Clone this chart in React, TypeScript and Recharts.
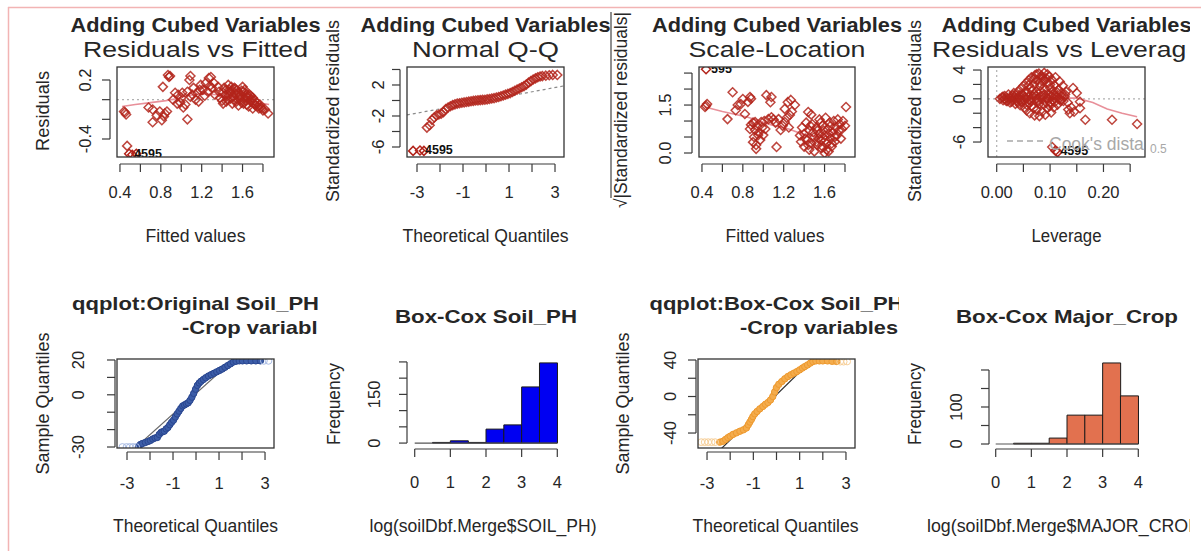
import React from "react";
import { ComposedChart, Scatter, Line, Bar, XAxis, YAxis, ReferenceLine } from "recharts";

const W = 1201;
const H = 551;
const AXIS_SPACE = 60;
const FONT = "'Liberation Sans', Arial, Helvetica, sans-serif";
const RED = "#B3241B";
const LOESS = "#E8909A";
const INK = "#262626";
const AX = "#3a3a3a";
const TICK_LEN = 8;
const MARK_R = 4.5;

// ---------- Residuals vs Fitted ----------
const rvfPoints: [number, number][] = [
  [0.44, -0.12], [0.46, -0.15], [0.45, -0.13], [0.47, -0.47],
  [0.82, 0.13], [0.87, 0.25], [0.88, 0.23], [0.89, 0.24],
  [0.68, -0.08], [0.72, -0.1], [0.76, -0.16], [0.72, -0.23], [0.81, -0.21], [0.84, -0.14], [0.79, -0.12], [0.83, -0.17], [0.86, -0.12],
  [1.06, -0.2],
  [0.92, 0.0], [0.94, 0.07], [0.96, -0.04], [0.99, -0.03], [1.01, 0.07], [1.02, -0.08], [1.04, -0.05], [1.06, 0.08], [1.09, 0.03],
  [1.09, 0.24], [1.08, 0.2], [1.12, 0.12], [1.14, 0.0], [1.16, 0.07], [1.17, -0.02], [1.19, 0.15], [1.21, 0.1], [1.24, 0.17],
  [1.26, 0.08], [1.27, 0.22], [1.29, 0.23], [1.3, 0.12], [1.32, 0.17], [1.33, 0.05], [1.36, 0.13], [1.37, 0.08], [1.0, 0.02],
  [0.97, 0.05], [1.11, 0.05], [1.23, 0.04], [1.28, 0.14], [1.18, 0.1],
  [1.38, 0.02], [1.4, -0.01], [1.41, 0.07], [1.41, -0.04], [1.43, 0.04], [1.45, 0.0], [1.46, 0.15], [1.47, 0.1], [1.48, 0.08],
  [1.48, 0.01], [1.5, -0.04], [1.51, 0.03], [1.52, 0.12], [1.53, 0.11], [1.54, -0.02], [1.55, 0.07], [1.56, -0.06], [1.57, 0.04],
  [1.58, 0.0], [1.59, 0.09], [1.6, 0.13], [1.61, 0.08], [1.61, -0.04], [1.62, 0.02], [1.63, 0.04], [1.64, -0.05], [1.65, 0.02],
  [1.66, -0.07], [1.67, 0.05], [1.68, -0.02], [1.69, 0.0], [1.7, -0.09], [1.71, -0.04], [1.72, -0.01], [1.73, -0.06], [1.75, -0.07],
  [1.76, -0.09], [1.78, -0.08], [1.8, -0.11], [1.85, -0.14], [1.44, 0.1], [1.53, 0.06], [1.58, 0.05], [1.63, -0.01], [1.5, 0.09],
  [1.42, 0.12], [1.44, -0.02], [1.46, 0.05], [1.49, 0.13], [1.51, 0.0], [1.54, 0.09], [1.56, 0.02], [1.59, -0.03], [1.62, 0.1],
  [1.64, 0.06], [1.66, 0.03], [1.68, 0.04], [1.7, 0.02], [1.72, -0.05], [1.74, -0.03], [1.77, -0.05], [1.79, -0.09], [1.82, -0.1],
];
const rvfOutliers: [number, number, string][] = [[0.52, -0.56, ""], [0.56, -0.55, ""], [0.49, -0.55, "4595"]];
const rvfSmooth: [number, number][] = [
  [0.42, -0.07], [0.55, -0.05], [0.7, -0.03], [0.85, -0.01], [0.95, 0.01], [1.05, 0.04], [1.2, 0.06], [1.35, 0.05],
  [1.5, 0.02], [1.65, -0.01], [1.8, -0.04], [1.86, -0.05],
];

// ---------- Normal Q-Q ----------
const nqqPoints: [number, number][] = [
  [-2.57, -3.5], [-2.45, -3.2], [-2.35, -2.5], [-2.25, -2.2], [-2.15, -1.9], [-2.05, -1.8], [-1.95, -1.7], [-1.85, -1.5],
  [-1.75, -1.1], [-1.65, -0.9], [-1.55, -0.75], [-1.45, -0.6], [-1.35, -0.5], [-1.25, -0.4], [-1.15, -0.35], [-1.05, -0.3],
  [-0.95, -0.25], [-0.85, -0.2], [-0.75, -0.15], [-0.65, -0.1], [-0.55, -0.05], [-0.45, 0.0], [-0.35, 0.02], [-0.25, 0.05],
  [-0.15, 0.08], [-0.05, 0.1], [0.05, 0.15], [0.15, 0.2], [0.25, 0.25], [0.35, 0.3], [0.45, 0.38], [0.55, 0.45], [0.65, 0.55],
  [0.75, 0.65], [0.85, 0.75], [0.95, 0.85], [1.05, 0.95], [1.15, 1.1], [1.25, 1.25], [1.35, 1.4], [1.45, 1.55], [1.55, 1.7],
  [1.65, 1.85], [1.75, 2.05], [1.85, 2.3], [1.95, 2.5], [2.05, 2.7], [2.15, 2.85], [2.25, 3.0], [2.35, 3.1], [2.45, 3.15],
  [2.6, 3.2], [2.75, 3.25], [2.9, 3.3], [3.1, 3.3],
];
const nqqOutliers: [number, number, string][] = [[-3.17, -6.5, ""], [-2.7, -6.5, ""], [-2.87, -6.45, "4595"]];
const nqqLine: [number, number][] = [[-3.44, -1.87], [3.4, 1.89]];

// ---------- Scale-Location ----------
const slPoints: [number, number][] = [
  [0.43, 1.44], [0.45, 1.53], [0.44, 1.48],
  [0.65, 1.06], [0.7, 1.9], [0.73, 1.34], [0.75, 1.5], [0.78, 1.53], [0.8, 1.69], [0.82, 1.22], [0.85, 1.6], [0.87, 1.75], [0.88, 1.7],
  [0.87, 0.75], [0.88, 0.88], [0.9, 0.34], [0.92, 0.72], [0.92, 0.97], [0.93, 0.13], [0.95, 0.56], [0.97, 0.41], [0.98, 0.97],
  [1.0, 0.56], [1.02, 0.75], [1.05, 1.06], [1.08, 1.12], [0.9, 0.95], [0.94, 0.85], [0.96, 0.65], [0.99, 0.8], [1.01, 1.0],
  [0.91, 0.5], [0.93, 0.25], [1.03, 1.81], [1.07, 1.59], [1.08, 1.75], [1.13, 0.19],
  [1.15, 1.06], [1.17, 0.72], [1.21, 0.97], [1.21, 1.38], [1.24, 1.59], [1.26, 1.19], [1.27, 1.66], [1.31, 1.5], [1.19, 0.85],
  [1.23, 1.1], [1.28, 1.3], [1.12, 0.95], [1.1, 1.05], [1.25, 0.8], [1.44, 1.28], [1.47, 1.2],
  [1.36, 0.55], [1.37, 0.35], [1.38, 0.8], [1.4, 0.2], [1.4, 0.6], [1.42, 0.95], [1.43, 0.4], [1.45, 0.1], [1.45, 0.7], [1.47, 0.3],
  [1.48, 0.9], [1.5, 0.5], [1.5, 0.05], [1.52, 0.8], [1.53, 0.25], [1.55, 0.6], [1.55, 1.05], [1.57, 0.15], [1.57, 0.4], [1.58, 0.85],
  [1.6, 0.0], [1.6, 0.55], [1.61, 1.1], [1.62, 0.3], [1.63, 0.75], [1.64, 0.05], [1.65, 0.95], [1.66, 0.45], [1.67, 0.2], [1.68, 0.65],
  [1.69, 1.0], [1.7, 0.35], [1.71, 0.8], [1.72, 0.55], [1.73, 1.05], [1.74, 0.7], [1.75, 0.9], [1.76, 0.45], [1.77, 0.75], [1.78, 1.0],
  [1.8, 0.85], [1.81, 1.44], [1.58, 0.2], [1.62, 0.1], [1.54, 0.45], [1.46, 0.85], [1.49, 0.65], [1.59, 0.7], [1.66, 0.85],
  [1.52, 0.35], [1.41, 0.45], [1.44, 0.25], [1.56, 0.95], [1.64, 0.6], [1.7, 0.5], [1.61, 0.4], [1.53, 0.7], [1.67, 0.3],
];
const slOutliers: [number, number, string][] = [[0.44, 2.62, "595"]];
const slSmooth: [number, number][] = [
  [0.43, 1.44], [0.6, 1.3], [0.85, 1.12], [1.08, 0.88], [1.25, 0.75], [1.41, 0.56], [1.57, 0.5], [1.7, 0.68], [1.81, 0.97],
];

// ---------- Residuals vs Leverage ----------
const rvlPoints: [number, number][] = [
  [0.006, 0.0], [0.01, 0.2], [0.012, -0.2], [0.015, 0.4], [0.018, -0.3], [0.02, 0.1], [0.022, 0.6], [0.025, -0.5], [0.028, 0.3],
  [0.03, -0.1], [0.032, 0.8], [0.035, -0.7], [0.036, 0.5], [0.038, -0.3], [0.04, 1.0], [0.042, 0.1], [0.044, -0.9], [0.045, 1.4],
  [0.047, -0.5], [0.048, 0.6], [0.05, 1.8], [0.052, -1.2], [0.053, 0.2], [0.055, 2.2], [0.056, -1.6], [0.058, 0.9], [0.06, 2.6],
  [0.061, -0.2], [0.062, -2.0], [0.064, 1.5], [0.065, 3.0], [0.066, -1.0], [0.068, 0.4], [0.07, 2.0], [0.071, -2.3], [0.072, 3.3],
  [0.074, 1.0], [0.075, -1.5], [0.076, 2.6], [0.078, -0.4], [0.079, 3.5], [0.08, -2.4], [0.081, 1.8], [0.082, 0.3], [0.084, 3.2],
  [0.085, -1.8], [0.086, 2.4], [0.088, -0.8], [0.089, 3.6], [0.09, 1.2], [0.091, -2.2], [0.092, 2.9], [0.094, 0.0], [0.095, -1.3],
  [0.096, 2.2], [0.098, 3.1], [0.1, 1.5], [0.101, -0.6], [0.102, -1.9], [0.104, 2.6], [0.105, 0.6], [0.107, -1.2], [0.108, 1.9],
  [0.11, 3.0], [0.112, 0.2], [0.114, -0.8], [0.116, 1.3], [0.118, 2.4], [0.12, -0.3], [0.122, 0.8], [0.124, 1.8], [0.127, 0.3],
  [0.13, 1.0], [0.133, -0.5], [0.015, 0.0], [0.025, 0.1], [0.035, 0.0], [0.045, -0.1], [0.055, 0.0], [0.065, 0.1], [0.075, 0.0],
  [0.085, -0.1], [0.095, 0.1], [0.105, -0.2], [0.03, 0.5], [0.04, -0.5], [0.05, 0.5], [0.06, -0.6], [0.07, 0.7], [0.08, -0.7],
  [0.09, 0.6], [0.1, -0.5], [0.11, 0.5], [0.12, -0.1],
  [0.012, 0.3], [0.02, -0.3], [0.028, -0.4], [0.033, 0.3], [0.043, 0.5], [0.046, -0.3], [0.052, 0.9], [0.057, -0.9], [0.059, 0.3],
  [0.063, -0.3], [0.067, 1.2], [0.069, -1.3], [0.073, 0.4], [0.077, -0.2], [0.083, 1.0], [0.087, 0.5], [0.093, -0.5], [0.097, 0.7],
  [0.099, -1.0], [0.103, 0.3], [0.106, 1.1], [0.109, -0.4], [0.113, 0.9], [0.117, 0.0], [0.121, 0.4], [0.125, -0.3], [0.128, 0.6],
  [0.06, 1.9], [0.07, 2.8], [0.08, 2.2], [0.09, 2.6], [0.1, 2.0], [0.085, 3.0], [0.075, 3.4], [0.095, 3.4],
  [0.143, 1.5], [0.15, 0.8], [0.156, -0.4], [0.134, -1.5], [0.137, -2.0], [0.156, -1.3], [0.166, -2.9], [0.216, -2.9],
  [0.263, -3.5], [0.145, -1.8], [0.14, -1.2], [0.104, -6.7],
];
const rvlOutliers: [number, number, string][] = [[0.114, -7.4, ""], [0.11, -7.2, "4595"]];
const rvlSmooth: [number, number][] = [
  [0.006, 0.05], [0.08, 0.1], [0.15, 0.1], [0.18, -0.5], [0.207, -1.4], [0.235, -2.0], [0.263, -2.5],
];

// ---------- qqplot: Original Soil_PH ----------
const origBand: [number, number][] = [
  [-2.5, -29.6], [-2.42, -28.6], [-2.33, -28.0], [-2.2, -27.4], [-2.08, -26.8], [-1.98, -26.2], [-1.88, -25.4], [-1.78, -24.8],
  [-1.68, -24.5], [-1.6, -22.8], [-1.52, -21.6], [-1.45, -21.2], [-1.38, -20.9], [-1.3, -19.6], [-1.22, -18.8], [-1.14, -17.2],
  [-1.06, -15.8], [-0.98, -14.6], [-0.9, -12.8], [-0.82, -11.0], [-0.74, -9.4], [-0.66, -7.8], [-0.58, -6.4], [-0.5, -5.8],
  [-0.42, -5.2], [-0.34, -4.6], [-0.26, -3.2], [-0.18, -1.4], [-0.1, 0.8], [-0.02, 3.2], [0.06, 5.4], [0.14, 6.8], [0.22, 7.8],
  [0.32, 8.8], [0.42, 9.8], [0.54, 10.8], [0.66, 11.6], [0.78, 12.4], [0.9, 13.2], [1.02, 14.0], [1.14, 14.8], [1.26, 15.8],
  [1.38, 16.8], [1.5, 17.8], [1.62, 18.8], [1.74, 19.3], [1.88, 19.5], [2.02, 19.5], [2.2, 19.5], [2.4, 19.5], [2.6, 19.5], [2.8, 19.5],
];
const origTails: [number, number][] = [[-3.2, -30], [-3.02, -30], [-2.88, -30], [-2.74, -30], [-2.6, -30], [2.95, 19.5], [3.15, 19.5]];
const origLine: [number, number][] = [[-3.44, -39.96], [3.4, 41.1]];

// ---------- qqplot: Box-Cox Soil_PH ----------
const bcBand: [number, number][] = [
  [-2.45, -50], [-2.31, -49], [-2.2, -47], [-2.1, -45], [-2.0, -43.5], [-1.88, -41.5], [-1.73, -39.8], [-1.58, -38], [-1.43, -36.5],
  [-1.3, -34.5], [-1.22, -31], [-1.15, -28], [-1.08, -25], [-1.02, -22], [-0.94, -19], [-0.84, -16.4], [-0.72, -13.5], [-0.59, -10.9],
  [-0.48, -8.5], [-0.37, -6.6], [-0.26, -3.8], [-0.16, 0], [-0.08, 5], [0.0, 9.8], [0.1, 13.4], [0.23, 16.4], [0.36, 19.4],
  [0.49, 21.9], [0.62, 23.8], [0.75, 25.6], [0.88, 27.3], [1.0, 29.2], [1.12, 31.2], [1.22, 32.8], [1.34, 34.6], [1.46, 36.6],
  [1.57, 38.3], [1.7, 39], [1.85, 39], [2.0, 39], [2.2, 39], [2.4, 38.6], [2.6, 38.4],
];
const bcTails: [number, number][] = [[-3.25, -50], [-3.1, -50], [-2.95, -50], [-2.8, -50], [-2.65, -50], [2.75, 38.2], [2.9, 38.2], [3.05, 38.4]];
const bcLine: [number, number][] = [[-3.39, -82.1], [3.39, 86.1]];

// ---------- Histograms ----------
const binCenters = [0.25, 0.75, 1.25, 1.75, 2.25, 2.75, 3.25, 3.75];
const soilPhCounts = [0, 2, 7, 2, 43, 56, 173, 247];
const cropCounts = [0, 2, 2, 16, 78, 78, 219, 130];

// ---------- Ticks ----------
const fittedTicks = [0.4, 0.6, 0.8, 1.0, 1.2, 1.4, 1.6, 1.8];
const fittedLabels = ["0.4", "", "0.8", "", "1.2", "", "1.6", ""];
const quantTicks = [-3, -2, -1, 0, 1, 2, 3];
const quantLabels = ["-3", "", "-1", "", "1", "", "3"];
const residTicks = [-0.4, -0.2, 0, 0.2];
const residLabels = ["-0.4", "", "", "0.2"];
const stdTicks = [-6, -4, -2, 0, 2, 4];
const stdLabels = ["-6", "", "-2", "", "2", ""];
const sqrtTicks = [0, 0.5, 1, 1.5, 2, 2.5];
const sqrtLabels = ["0.0", "", "", "1.5", "", ""];
const levTicks = [0, 0.05, 0.1, 0.15, 0.2, 0.25];
const levLabels = ["0.00", "", "0.10", "", "0.20", ""];
const levStdLabels = ["-6", "", "", "0", "", "4"];
const origTicks = [-30, -20, -10, 0, 10, 20];
const origLabels = ["-30", "", "", "0", "", "20"];
const bcTicks = [-40, -20, 0, 20, 40];
const bcLabels = ["-40", "", "0", "", "40"];
const histTicks = [0, 1, 2, 3, 4];
const histLabels = ["0", "1", "2", "3", "4"];
const phFreqTicks = [0, 50, 100, 150, 200, 250];
const phFreqLabels = ["0", "", "", "150", "", ""];
const cropFreqTicks = [0, 50, 100, 150, 200];
const cropFreqLabels = ["0", "", "100", "", ""];

// ---------- layout ----------
type Box = { x0: number; y0: number; x1: number; y1: number };
const B1: Box = { x0: 117, y0: 67, x1: 274, y1: 157 };
const B2: Box = { x0: 407, y0: 67, x1: 564, y1: 157 };
const B3: Box = { x0: 699, y0: 67, x1: 855, y1: 157 };
const B4: Box = { x0: 988, y0: 67, x1: 1145, y1: 157 };
const B5: Box = { x0: 117, y0: 359, x1: 274, y1: 448 };
const B6: Box = { x0: 409, y0: 359, x1: 563, y1: 446 };
const B7: Box = { x0: 698, y0: 359, x1: 855, y1: 448 };
const B8: Box = { x0: 990, y0: 360, x1: 1144, y1: 447 };

const pts = (a: [number, number][]) => a.map(([x, y]) => ({ x, y }));
const lbl = (a: [number, number, string][]) => a.map(([x, y, label]) => ({ x, y, label }));
const bins = (c: number[]) => binCenters.map((x, i) => ({ x, y: c[i] }));

interface AxisCfg {
  domain: [number, number];
  ticks: number[];
  labels: string[];
  gap: number;
  lab: number;
}

function XTick(props: any) {
  const { x, y, index, cfg, step } = props;
  const ay = y + cfg.gap;
  const label = cfg.labels[index];
  return (
    <g>
      {index === 0 && (
        <line x1={x} y1={ay} x2={x + step * (cfg.ticks.length - 1)} y2={ay} stroke={AX} strokeWidth={1.2} />
      )}
      <line x1={x} y1={ay} x2={x} y2={ay + TICK_LEN} stroke={AX} strokeWidth={1.2} />
      {label ? (
        <text x={x} y={y + cfg.lab} textAnchor="middle" fontSize={16.5} fill={INK} fontFamily={FONT}>
          {label}
        </text>
      ) : null}
    </g>
  );
}

function YTick(props: any) {
  const { x, y, index, cfg, step } = props;
  const ax = x - cfg.gap;
  const label = cfg.labels[index];
  const cx = x - cfg.lab;
  return (
    <g>
      {index === 0 && (
        <line x1={ax} y1={y} x2={ax} y2={y - step * (cfg.ticks.length - 1)} stroke={AX} strokeWidth={1.2} />
      )}
      <line x1={ax} y1={y} x2={ax - TICK_LEN} y2={y} stroke={AX} strokeWidth={1.2} />
      {label ? (
        <text
          x={cx}
          y={y + 6}
          transform={`rotate(-90 ${cx} ${y})`}
          textAnchor="middle"
          fontSize={16.5}
          fill={INK}
          fontFamily={FONT}
        >
          {label}
        </text>
      ) : null}
    </g>
  );
}

function Panel({ box, x, y, data, children }: { box: Box; x: AxisCfg; y: AxisCfg; data?: any[]; children: React.ReactNode }) {
  const xStep = ((x.ticks[1] - x.ticks[0]) * (box.x1 - box.x0)) / (x.domain[1] - x.domain[0]);
  const yStep = ((y.ticks[1] - y.ticks[0]) * (box.y1 - box.y0)) / (y.domain[1] - y.domain[0]);
  return (
    <div style={{ position: "absolute", left: 0, top: 0 }}>
      <ComposedChart
        width={W}
        height={H}
        data={data}
        margin={{ top: box.y0, right: W - box.x1, bottom: H - box.y1 - AXIS_SPACE, left: box.x0 - AXIS_SPACE }}
        barCategoryGap={0}
        barGap={0}
      >
        <XAxis
          type="number"
          dataKey="x"
          domain={x.domain}
          ticks={x.ticks}
          interval={0}
          allowDataOverflow
          height={AXIS_SPACE}
          axisLine={false}
          tickLine={false}
          tickSize={0}
          tickMargin={0}
          tick={<XTick cfg={x} step={xStep} />}
        />
        <YAxis
          type="number"
          dataKey="y"
          domain={y.domain}
          ticks={y.ticks}
          interval={0}
          allowDataOverflow
          width={AXIS_SPACE}
          axisLine={false}
          tickLine={false}
          tickSize={0}
          tickMargin={0}
          tick={<YTick cfg={y} step={yStep} />}
        />
        {children}
      </ComposedChart>
    </div>
  );
}

const diamondPath = (cx: number, cy: number, r: number) =>
  `M${cx},${cy - r}L${cx + r},${cy}L${cx},${cy + r}L${cx - r},${cy}Z`;

const diamond = (color: string) => (p: any) => {
  const { cx, cy } = p;
  if (cx == null || cy == null) return <g />;
  return <path d={diamondPath(cx, cy, MARK_R)} fill="none" stroke={color} strokeOpacity={0.85} strokeWidth={1.5} />;
};

const labeled = (color: string) => (p: any) => {
  const { cx, cy, payload } = p;
  if (cx == null || cy == null) return <g />;
  return (
    <g>
      <path d={diamondPath(cx, cy, MARK_R)} fill="none" stroke={color} strokeWidth={1.5} />
      {payload && payload.label ? (
        <text x={cx + 5} y={cy + 4} fontSize={12.5} fill="#111" fontFamily={FONT} fontWeight="bold">
          {payload.label}
        </text>
      ) : null}
    </g>
  );
};

const dot = (stroke: string, fill: string, r: number) => (p: any) => {
  const { cx, cy } = p;
  if (cx == null || cy == null) return <g />;
  return <circle cx={cx} cy={cy} r={r} fill={fill} stroke={stroke} strokeWidth={1} />;
};

function Txt({ x, y, children, size = 17.5, bold = false, len, anchor = "middle", fill = INK, rot = false, clip }: any) {
  const capHalf = size * 0.36;
  return (
    <text
      x={x}
      y={rot ? y + capHalf : y}
      transform={rot ? `rotate(-90 ${x} ${y})` : undefined}
      textAnchor={anchor}
      fontSize={size}
      fontWeight={bold ? "bold" : "normal"}
      fontFamily={FONT}
      fill={fill}
      textLength={len}
      lengthAdjust={len ? "spacingAndGlyphs" : undefined}
      clipPath={clip ? `url(#${clip})` : undefined}
    >
      {children}
    </text>
  );
}

const cxOf = (b: Box) => (b.x0 + b.x1) / 2;
const cyOf = (b: Box) => (b.y0 + b.y1) / 2;

function Overlay() {
  const boxes = [B1, B2, B3, B4, B5, B7];
  return (
    <svg width={W} height={H} style={{ position: "absolute", left: 0, top: 0 }}>
      <defs>
        <clipPath id="clipRight">
          <rect x={0} y={0} width={1190} height={H} />
        </clipPath>
        <clipPath id="clipCaption">
          <rect x={0} y={0} width={1187} height={H} />
        </clipPath>
        <clipPath id="clipCol1">
          <rect x={0} y={0} width={318} height={H} />
        </clipPath>
        <clipPath id="clipCol3">
          <rect x={600} y={0} width={299} height={H} />
        </clipPath>
        <clipPath id="clipLev">
          <rect x={B4.x0} y={B4.y0} width={B4.x1 - B4.x0} height={B4.y1 - B4.y0} />
        </clipPath>
      </defs>
      <line x1={8} y1={7.5} x2={W} y2={7.5} stroke="#F2B4B4" strokeWidth={1.5} />
      <line x1={8.5} y1={7} x2={8.5} y2={H} stroke="#F2B4B4" strokeWidth={1.5} />

      {boxes.map((b, i) => (
        <rect key={i} x={b.x0} y={b.y0} width={b.x1 - b.x0} height={b.y1 - b.y0} fill="none" stroke="#333" strokeWidth={1.3} />
      ))}

      {/* top row titles */}
      {[B1, B2, B3].map((b, i) => (
        <Txt key={i} x={cxOf(b)} y={32} size={20} bold len={250}>Adding Cubed Variables</Txt>
      ))}
      <Txt x={cxOf(B4)} y={32} size={20} bold len={250} clip="clipRight">Adding Cubed Variables</Txt>
      <Txt x={cxOf(B1)} y={57} size={21.5} len={225}>Residuals vs Fitted</Txt>
      <Txt x={cxOf(B2)} y={57} size={21.5} len={147}>Normal Q-Q</Txt>
      <Txt x={cxOf(B3)} y={57} size={21.5} len={177}>Scale-Location</Txt>
      <Txt x={cxOf(B4)} y={57} size={21.5} len={269} clip="clipCaption">Residuals vs Leverage</Txt>

      <Txt x={cxOf(B1)} y={242} len={100}>Fitted values</Txt>
      <Txt x={cxOf(B2)} y={242} len={166}>Theoretical Quantiles</Txt>
      <Txt x={cxOf(B3) - 2} y={242} len={99}>Fitted values</Txt>
      <Txt x={cxOf(B4)} y={242} len={70}>Leverage</Txt>

      <Txt x={B1.x0 - 74} y={111} rot len={80}>Residuals</Txt>
      <Txt x={B2.x0 - 74} y={111} rot len={182}>Standardized residuals</Txt>
      <Txt x={621} y={110} rot len={196}>√|Standardized residuals|</Txt>
      <line x1={611} y1={12} x2={611} y2={198} stroke="#444" strokeWidth={1.2} />
      <Txt x={B4.x0 - 73} y={111} rot len={182}>Standardized residuals</Txt>

      {/* Cook's distance legend */}
      <line x1={1007} y1={141} x2={1045} y2={141} stroke="#A8A8A8" strokeWidth={1.5} strokeDasharray="6 4" />
      <Txt x={1049} y={150} anchor="start" size={17.5} fill="#A8A8A8" clip="clipLev">Cook's distance</Txt>
      <Txt x={1150} y={153} anchor="start" size={12} fill="#A8A8A8">0.5</Txt>

      {/* bottom row titles */}
      <Txt x={cxOf(B5)} y={310} size={19} bold len={247} clip="clipCol1">qqplot:Original Soil_PH</Txt>
      <Txt x={182} y={334} size={19} bold len={160} anchor="start" clip="clipCol1">-Crop variables</Txt>
      <Txt x={cxOf(B6)} y={323} size={19} bold len={182}>Box-Cox Soil_PH</Txt>
      <Txt x={cxOf(B7)} y={310} size={19} bold len={254} clip="clipCol3">qqplot:Box-Cox Soil_PH</Txt>
      <Txt x={740} y={334} size={19} bold len={158} anchor="start" clip="clipCol3">-Crop variables</Txt>
      <Txt x={cxOf(B8)} y={323} size={19} bold len={222}>Box-Cox Major_Crop</Txt>

      <Txt x={cxOf(B5)} y={532} len={165}>Theoretical Quantiles</Txt>
      <Txt x={483} y={532} len={227}>log(soilDbf.Merge$SOIL_PH)</Txt>
      <Txt x={cxOf(B7) - 1} y={532} len={166}>Theoretical Quantiles</Txt>
      <Txt x={927} y={532} len={279} anchor="start" clip="clipRight">log(soilDbf.Merge$MAJOR_CROP)</Txt>

      <Txt x={B5.x0 - 74} y={cyOf(B5)} rot len={142}>Sample Quantiles</Txt>
      <Txt x={334} y={404} rot len={82}>Frequency</Txt>
      <Txt x={B7.x0 - 75} y={cyOf(B7)} rot len={142}>Sample Quantiles</Txt>
      <Txt x={915} y={404} rot len={82}>Frequency</Txt>
    </svg>
  );
}

const DOTTED = { stroke: "#B0B0B0", strokeDasharray: "2 3", strokeWidth: 1.2 };

export default function App() {
  return (
    <div style={{ position: "absolute", left: 0, top: 0, width: W, height: H, background: "#fff", overflow: "hidden", fontFamily: FONT }}>
      {/* Residuals vs Fitted */}
      <Panel
        box={B1}
        x={{ domain: [0.371, 1.908], ticks: fittedTicks, labels: fittedLabels, gap: 7, lab: 41 }}
        y={{ domain: [-0.583, 0.332], ticks: residTicks, labels: residLabels, gap: 7, lab: 32 }}
      >
        <ReferenceLine y={0} {...DOTTED} />
        <Scatter data={pts(rvfPoints)} shape={diamond(RED)} isAnimationActive={false} />
        <Line data={pts(rvfSmooth)} dataKey="y" stroke={LOESS} strokeWidth={1.6} dot={false} isAnimationActive={false} />
        <Scatter data={lbl(rvfOutliers)} shape={labeled(RED)} isAnimationActive={false} />
      </Panel>

      {/* Normal Q-Q */}
      <Panel
        box={B2}
        x={{ domain: [-3.435, 3.391], ticks: quantTicks, labels: quantLabels, gap: 7, lab: 41 }}
        y={{ domain: [-7.29, 4.32], ticks: stdTicks, labels: stdLabels, gap: 7, lab: 29 }}
      >
        <Line data={pts(nqqLine)} dataKey="y" stroke="#8a8a8a" strokeDasharray="3 3" strokeWidth={1.2} dot={false} isAnimationActive={false} />
        <Scatter data={pts(nqqPoints)} shape={diamond(RED)} isAnimationActive={false} />
        <Scatter data={lbl(nqqOutliers)} shape={labeled(RED)} isAnimationActive={false} />
      </Panel>

      {/* Scale-Location */}
      <Panel
        box={B3}
        x={{ domain: [0.371, 1.898], ticks: fittedTicks, labels: fittedLabels, gap: 7, lab: 41 }}
        y={{ domain: [-0.125, 2.69], ticks: sqrtTicks, labels: sqrtLabels, gap: 7, lab: 34 }}
      >
        <Scatter data={pts(slPoints)} shape={diamond(RED)} isAnimationActive={false} />
        <Line data={pts(slSmooth)} dataKey="y" stroke={LOESS} strokeWidth={1.6} dot={false} isAnimationActive={false} />
        <Scatter data={lbl(slOutliers)} shape={labeled(RED)} isAnimationActive={false} />
      </Panel>

      {/* Residuals vs Leverage */}
      <Panel
        box={B4}
        x={{ domain: [-0.0163, 0.2778], ticks: levTicks, labels: levLabels, gap: 7, lab: 41 }}
        y={{ domain: [-8.08, 4.42], ticks: stdTicks, labels: levStdLabels, gap: 7, lab: 29 }}
      >
        <ReferenceLine y={0} {...DOTTED} />
        <ReferenceLine x={0} {...DOTTED} />
        <Scatter data={pts(rvlPoints)} shape={diamond(RED)} isAnimationActive={false} />
        <Line data={pts(rvlSmooth)} dataKey="y" stroke={LOESS} strokeWidth={1.6} dot={false} isAnimationActive={false} />
        <Scatter data={lbl(rvlOutliers)} shape={labeled(RED)} isAnimationActive={false} />
      </Panel>

      {/* qqplot: Original */}
      <Panel
        box={B5}
        x={{ domain: [-3.435, 3.39], ticks: quantTicks, labels: quantLabels, gap: 4, lab: 41 }}
        y={{ domain: [-30.57, 20.57], ticks: origTicks, labels: origLabels, gap: 2, lab: 39 }}
      >
        <Line data={pts(origBand)} dataKey="y" stroke="#2E4E98" strokeWidth={6} dot={false} isAnimationActive={false} />
        <Scatter data={pts(origBand)} shape={dot("#2A4790", "#3C5DA8", 3.2)} isAnimationActive={false} />
        <Scatter data={pts(origTails)} shape={dot("#A9BCE4", "none", 3.4)} isAnimationActive={false} />
        <Line data={pts(origLine)} dataKey="y" stroke="#6a6a6a" strokeWidth={1.2} dot={false} isAnimationActive={false} />
      </Panel>

      {/* Box-Cox Soil_PH histogram */}
      <Panel
        box={B6}
        data={bins(soilPhCounts)}
        x={{ domain: [-0.16, 4.16], ticks: histTicks, labels: histLabels, gap: 3, lab: 42 }}
        y={{ domain: [-9, 259], ticks: phFreqTicks, labels: phFreqLabels, gap: 2, lab: 35 }}
      >
        <Bar dataKey="y" fill="#0000F2" stroke="#1a1a1a" strokeWidth={1} isAnimationActive={false} />
        <ReferenceLine segment={[{ x: 0, y: 0 }, { x: 4, y: 0 }]} stroke="#555" strokeWidth={1.2} />
      </Panel>

      {/* qqplot: Box-Cox */}
      <Panel
        box={B7}
        x={{ domain: [-3.39, 3.39], ticks: quantTicks, labels: quantLabels, gap: 4, lab: 41 }}
        y={{ domain: [-56.4, 41.1], ticks: bcTicks, labels: bcLabels, gap: 2, lab: 28 }}
      >
        <Line data={pts(bcBand)} dataKey="y" stroke="#F0A23C" strokeWidth={6} dot={false} isAnimationActive={false} />
        <Scatter data={pts(bcBand)} shape={dot("#EE9A30", "#F4AC4C", 3.2)} isAnimationActive={false} />
        <Scatter data={pts(bcTails)} shape={dot("#F7CF98", "none", 3.4)} isAnimationActive={false} />
        <Line data={pts(bcLine)} dataKey="y" stroke="#2f2f2f" strokeWidth={1.2} dot={false} isAnimationActive={false} />
      </Panel>

      {/* Box-Cox Major_Crop histogram */}
      <Panel
        box={B8}
        data={bins(cropCounts)}
        x={{ domain: [-0.16, 4.16], ticks: histTicks, labels: histLabels, gap: 2, lab: 41 }}
        y={{ domain: [-8.1, 227], ticks: cropFreqTicks, labels: cropFreqLabels, gap: 1, lab: 34 }}
      >
        <Bar dataKey="y" fill="#E2714F" stroke="#1a1a1a" strokeWidth={1} isAnimationActive={false} />
        <ReferenceLine segment={[{ x: 0, y: 0 }, { x: 4, y: 0 }]} stroke="#555" strokeWidth={1.2} />
      </Panel>

      <Overlay />
    </div>
  );
}
